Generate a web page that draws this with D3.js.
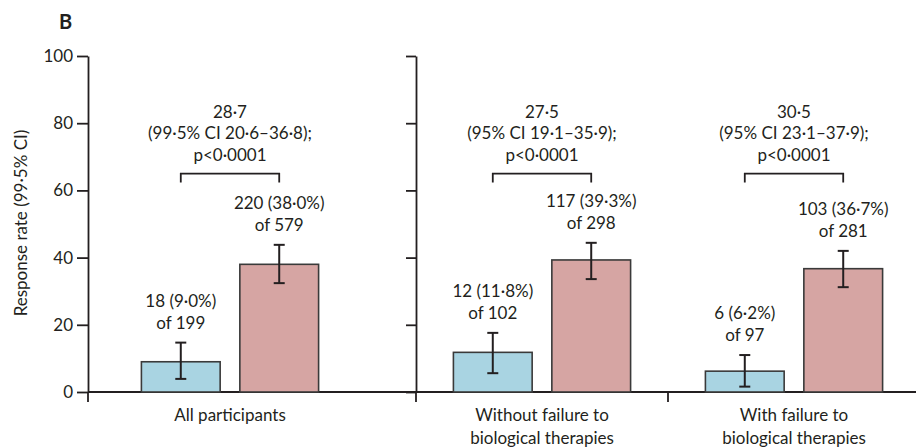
<!DOCTYPE html>
<html>
<head>
<meta charset="utf-8">
<script src="https://cdn.jsdelivr.net/npm/d3@7"></script>
<style>
  body { margin: 0; background: #fff; }
  svg { display: block; font-family: Lato, "Open Sans", sans-serif; }
</style>
</head>
<body>
<svg id="chart" width="916" height="448"></svg>
<script>
'use strict';

// subgroups, one panel each
var groups = [["All participants"], ["Without failure to", "biological therapies"], ["With failure to", "biological therapies"]];

// placebo arm
var placeboN = [18, 12, 6];
var placeboTotal = [199, 102, 97];
var placeboRate = [9.0, 11.8, 6.2];
var placeboLow = [3.9, 5.6, 1.6];
var placeboHigh = [14.7, 17.6, 11.0];

// active arm
var activeN = [220, 117, 103];
var activeTotal = [579, 298, 281];
var activeRate = [38.0, 39.3, 36.7];
var activeLow = [32.4, 33.6, 31.2];
var activeHigh = [43.8, 44.4, 42.0];

// difference annotations
var diffValue = ["28·7", "27·5", "30·5"];
var diffCI = ["(99·5% CI 20·6–36·8);", "(95% CI 19·1–35·9);", "(95% CI 23·1–37·9);"];
var diffP = ["p<0·0001", "p<0·0001", "p<0·0001"];

var yTicks = [0, 20, 40, 60, 80, 100];
var bracketLevel = 65;

var ink = "#231f20";
var colBlue = "#a9d4e2";
var colRed = "#d6a5a3";
var fs = 17;

var svg = d3.select("#chart");

var y = d3.scaleLinear().domain([0, 100]).range([392, 56]);

// panel starts (the first one sits a little right of its axis)
var panelX = [104, 416, 668];
var panelW = 252;

function fmt(v) { return v.toFixed(1).replace('.', '·'); }

var data = groups.map((g, i) => ({
  label: g,
  arms: [
    { key: "placebo", n: placeboN[i], total: placeboTotal[i], rate: placeboRate[i], lo: placeboLow[i], hi: placeboHigh[i], fill: colBlue },
    { key: "active", n: activeN[i], total: activeTotal[i], rate: activeRate[i], lo: activeLow[i], hi: activeHigh[i], fill: colRed }
  ],
  diff: [diffValue[i], diffCI[i], diffP[i]]
}));

// baseline
svg.append("line")
    .attr("x1", 88).attr("x2", 916)
    .attr("y1", y(0)).attr("y2", y(0))
    .attr("stroke", ink).attr("stroke-width", 1.8);

// left axis with labels
var axis1 = svg.append("g")
    .attr("transform", "translate(88,0)")
    .call(d3.axisLeft(y).tickValues(yTicks).tickSize(11).tickSizeOuter(0).tickPadding(4));

// second axis, no labels
var axis2 = svg.append("g")
    .attr("transform", "translate(416,0)")
    .call(d3.axisLeft(y).tickValues(yTicks).tickSize(10).tickSizeOuter(0).tickFormat(""));

[axis1, axis2].forEach(a => {
  a.select(".domain").attr("stroke", ink).attr("stroke-width", 1.8);
  a.selectAll(".tick line").attr("stroke", ink).attr("stroke-width", 1.8);
  a.selectAll(".tick text").attr("fill", ink).attr("font-size", 17).attr("font-family", "Lato, sans-serif");
  a.append("line").attr("x1", 0).attr("x2", 0).attr("y1", y(0)).attr("y2", y(0) + 10)
      .attr("stroke", ink).attr("stroke-width", 1.8);
});

// small tick below third panel
svg.append("line")
    .attr("x1", panelX[2]).attr("x2", panelX[2])
    .attr("y1", y(0)).attr("y2", y(0) + 10)
    .attr("stroke", ink).attr("stroke-width", 1.8);

// y title
svg.append("text")
    .attr("transform", "translate(21," + 223 + ") rotate(-90)")
    .attr("text-anchor", "middle")
    .attr("dy", "0.35em")
    .attr("font-size", 17)
    .attr("fill", ink)
    .text("Response rate (99·5% CI)");

// panel letter
svg.append("text")
    .attr("x", 59).attr("y", 29)
    .attr("font-size", 20).attr("font-weight", "bold")
    .attr("fill", ink)
    .text("B");

var panels = svg.selectAll("g.panel")
  .data(data)
  .join("g")
    .attr("class", "panel");

panels.each(function(d, i) {
  var g = d3.select(this);
  var x = d3.scaleBand()
      .domain(["placebo", "active"])
      .range([panelX[i], panelX[i] + panelW])
      .paddingInner(0.2)
      .paddingOuter(0.38);
  var cx = k => x(k) + x.bandwidth() / 2;

  // bars
  g.selectAll("rect")
    .data(d.arms)
    .join("rect")
      .attr("x", a => x(a.key))
      .attr("width", x.bandwidth())
      .attr("y", a => y(a.rate))
      .attr("height", a => y(0) - y(a.rate))
      .attr("fill", a => a.fill)
      .attr("stroke", "#3a3a3a")
      .attr("stroke-width", 1.6);

  // error bars
  var eb = g.selectAll("g.err")
    .data(d.arms)
    .join("g")
      .attr("class", "err")
      .attr("stroke", ink)
      .attr("stroke-width", 2);
  eb.append("line")
      .attr("x1", a => cx(a.key)).attr("x2", a => cx(a.key))
      .attr("y1", a => y(a.lo)).attr("y2", a => y(a.hi));
  eb.append("line")
      .attr("x1", a => cx(a.key) - 5.5).attr("x2", a => cx(a.key) + 5.5)
      .attr("y1", a => y(a.hi)).attr("y2", a => y(a.hi));
  eb.append("line")
      .attr("x1", a => cx(a.key) - 5.5).attr("x2", a => cx(a.key) + 5.5)
      .attr("y1", a => y(a.lo)).attr("y2", a => y(a.lo));

  // counts above bars
  var lab = g.selectAll("text.count")
    .data(d.arms)
    .join("text")
      .attr("class", "count")
      .attr("text-anchor", "middle")
      .attr("font-size", fs)
      .attr("fill", ink);
  lab.append("tspan")
      .attr("x", a => cx(a.key))
      .attr("y", a => y(a.hi) - 14 - 22)
      .text(a => a.n + " (" + fmt(a.rate) + "%)");
  lab.append("tspan")
      .attr("x", a => cx(a.key))
      .attr("y", a => y(a.hi) - 14)
      .text(a => "of " + a.total);

  // bracket
  var bx0 = cx("placebo"), bx1 = cx("active"), by = y(bracketLevel);
  g.append("path")
      .attr("d", "M" + bx0 + "," + (by + 9) + "V" + by + "H" + bx1 + "V" + (by + 9))
      .attr("fill", "none")
      .attr("stroke", ink)
      .attr("stroke-width", 1.8);

  var mid = (bx0 + bx1) / 2;
  g.append("text")
      .attr("text-anchor", "middle")
      .attr("font-size", fs)
      .attr("fill", ink)
    .selectAll("tspan")
    .data(d.diff)
    .join("tspan")
      .attr("x", mid)
      .attr("y", (t, j) => by - 13 - (2 - j) * 21.5)
      .text(t => t);

  // category label
  g.append("text")
      .attr("text-anchor", "middle")
      .attr("font-size", fs)
      .attr("fill", ink)
    .selectAll("tspan")
    .data(d.label)
    .join("tspan")
      .attr("x", mid)
      .attr("y", (t, j) => 421 + j * 23)
      .text(t => t);
});
</script>
</body>
</html>
